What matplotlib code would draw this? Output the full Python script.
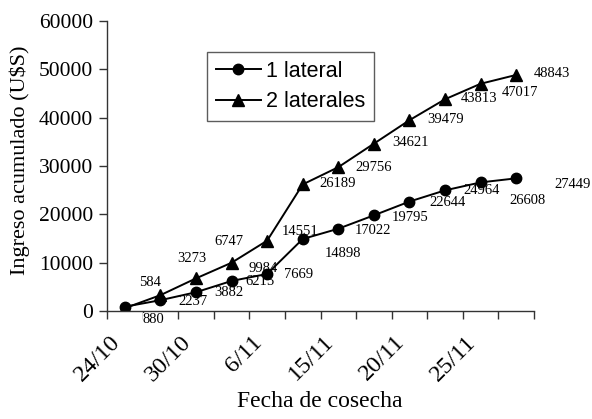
import numpy as np
from matplotlib import pyplot as plt
from matplotlib.transforms import ScaledTranslation

fechas = ["24/10", "", "30/10", "", "6/11", "", "15/11", "", "20/11", "", "25/11", ""]
un_lateral = [880, 2237, 3882, 6215, 7669, 14898, 17022, 19795, 22644, 24964, 26608, 27449]
dos_laterales = [584, 3273, 6747, 9984, 14551, 26189, 29756, 34621, 39479, 43813, 47017, 48843]

# label offsets in pixels (dx, dy), as placed in the original
off_uno = [(29, -13), (33, -1), (33, 0), (28, -1), (31, -1), (40, -15),
           (35, -2), (36, -2), (38, -1), (37, 0), (47, -18), (56, -6)]
off_dos = [(25, 26), (32, 37), (33, 37), (32, -6), (33, 9), (35, 1),
           (35, 0), (37, 1), (36, 1), (34, 1), (39, -9), (36, 1)]

serif = "Liberation Serif"
sans = "Liberation Sans"

fig = plt.figure(figsize=(5.92, 4.19), dpi=100)
ax = fig.add_axes([107 / 592, 1 - 311 / 419, 427 / 592, 290 / 419])

x = np.arange(len(un_lateral))
ax.plot(x, un_lateral, color="black", lw=1.4, marker="o", ms=7.5, label="1 lateral")
ax.plot(x, dos_laterales, color="black", lw=1.4, marker="^", ms=8, label="2 laterales")

for i, (xi, v, (dx, dy)) in enumerate(zip(x, un_lateral, off_uno)):
    t = ax.annotate(str(v), (xi, v), xytext=(dx, dy), textcoords="offset pixels",
                    ha="center", va="center", fontsize=10.5, family=serif)
    if i == 0:
        # this one sits on the axis and hides a tick mark
        t.set_bbox(dict(fc="white", ec="none", pad=0))
for xi, v, (dx, dy) in zip(x, dos_laterales, off_dos):
    ax.annotate(str(v), (xi, v), xytext=(dx, dy), textcoords="offset pixels",
                ha="center", va="center", fontsize=10.5, family=serif)

ax.set_xlim(-0.5, len(x) - 0.5)
ax.set_ylim(0, 60000)
ax.set_yticks(np.arange(0, 60001, 10000))
ax.set_yticklabels([str(v) for v in range(0, 60001, 10000)], family=serif, fontsize=15.5)

ax.set_xticks(np.arange(-0.5, len(x)), minor=True)
ax.tick_params(axis="x", which="major", length=0, pad=0)
ax.tick_params(axis="x", which="minor", length=6, width=1, color="#333333")
ax.tick_params(axis="y", length=6, width=1, color="#333333", pad=4)

ax.set_xticks(x)
ax.set_xticklabels(fechas, rotation=45, ha="right", va="center", rotation_mode="anchor",
                   family=serif, fontsize=17.5)
shift = ScaledTranslation(-8 / 100, -28 / 100, fig.dpi_scale_trans)
for lbl in ax.get_xticklabels():
    lbl.set_transform(lbl.get_transform() + shift)

for s in ["top", "right"]:
    ax.spines[s].set_visible(False)
for s in ["left", "bottom"]:
    ax.spines[s].set_color("#333333")
    ax.spines[s].set_linewidth(1)

ax.set_xlabel("Fecha de cosecha", family=serif, fontsize=17)
ax.xaxis.set_label_coords(0.499, -0.275)
ax.set_ylabel("Ingreso acumulado (U$S)", family=serif, fontsize=16)
ax.yaxis.set_label_coords(-0.18, 0.52)

leg = ax.legend(loc="upper left", bbox_to_anchor=(0.234, 0.893), borderaxespad=0,
                prop={"family": sans, "size": 15.5},
                frameon=True, fancybox=False, edgecolor="#333333", handlelength=2.1,
                labelspacing=0.45, borderpad=0.4, handletextpad=0.25)
leg.get_frame().set_linewidth(1)

fig.savefig("out.png", dpi=100)
